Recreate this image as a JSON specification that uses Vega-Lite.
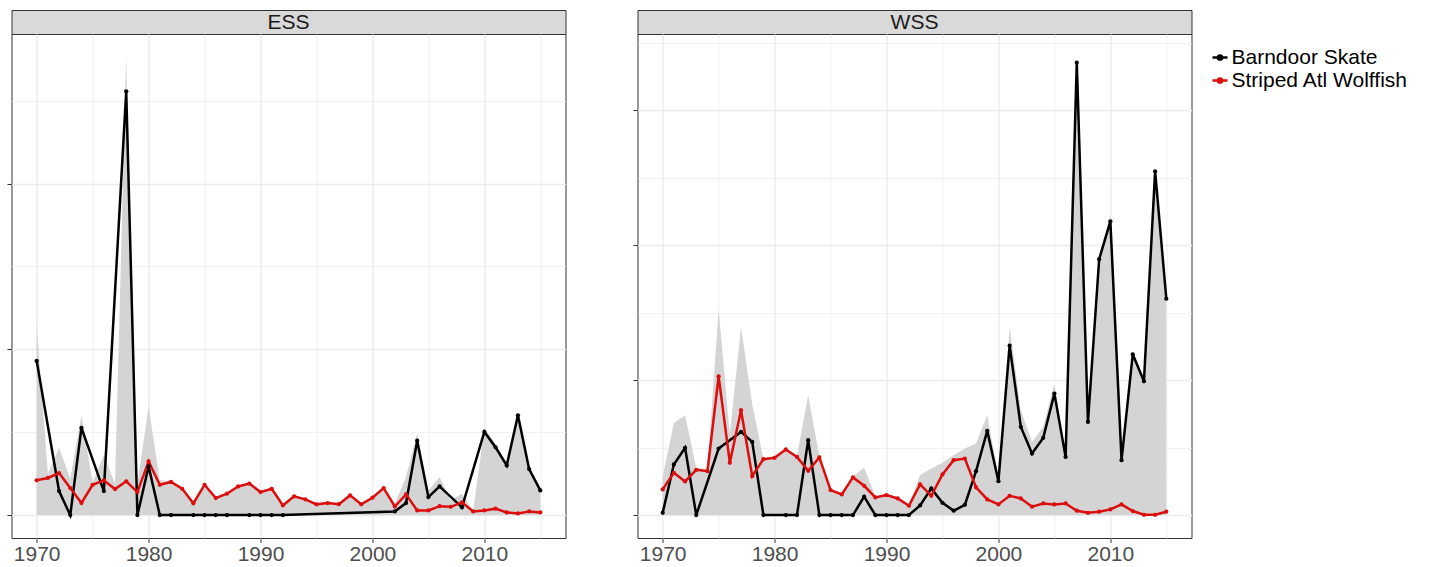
{
  "$schema": "https://vega.github.io/schema/vega-lite/v6.json",
  "padding": {"left": 5.5, "top": 9, "right": 5, "bottom": 0},
  "background": "white",
  "config": {
    "font": "Liberation Sans",
    "view": {"stroke": "#333333", "strokeWidth": 1},
    "axis": {"domain": false, "tickColor": "#333333", "tickSize": 4.5, "tickWidth": 1, "labelFont": "Liberation Sans", "labelFontSize": 21, "labelColor": "#4d4d4d", "labelPadding": 1, "gridColor": "#ebebeb", "title": null, "labelOverlap": false, "labelFlush": false}
  },
  "datasets": {
    "lines": [
      {"panel": "ESS", "series": "Barndoor Skate", "year": 1970, "value": 9.30},
      {"panel": "ESS", "series": "Barndoor Skate", "year": 1972, "value": 1.45},
      {"panel": "ESS", "series": "Barndoor Skate", "year": 1973, "value": 0},
      {"panel": "ESS", "series": "Barndoor Skate", "year": 1974, "value": 5.26},
      {"panel": "ESS", "series": "Barndoor Skate", "year": 1976, "value": 1.45},
      {"panel": "ESS", "series": "Barndoor Skate", "year": 1978, "value": 25.56},
      {"panel": "ESS", "series": "Barndoor Skate", "year": 1979, "value": 0},
      {"panel": "ESS", "series": "Barndoor Skate", "year": 1980, "value": 2.94},
      {"panel": "ESS", "series": "Barndoor Skate", "year": 1981, "value": 0},
      {"panel": "ESS", "series": "Barndoor Skate", "year": 1982, "value": 0},
      {"panel": "ESS", "series": "Barndoor Skate", "year": 1984, "value": 0},
      {"panel": "ESS", "series": "Barndoor Skate", "year": 1985, "value": 0},
      {"panel": "ESS", "series": "Barndoor Skate", "year": 1986, "value": 0},
      {"panel": "ESS", "series": "Barndoor Skate", "year": 1987, "value": 0},
      {"panel": "ESS", "series": "Barndoor Skate", "year": 1989, "value": 0},
      {"panel": "ESS", "series": "Barndoor Skate", "year": 1990, "value": 0},
      {"panel": "ESS", "series": "Barndoor Skate", "year": 1991, "value": 0},
      {"panel": "ESS", "series": "Barndoor Skate", "year": 1992, "value": 0},
      {"panel": "ESS", "series": "Barndoor Skate", "year": 2002, "value": 0.22},
      {"panel": "ESS", "series": "Barndoor Skate", "year": 2003, "value": 0.73},
      {"panel": "ESS", "series": "Barndoor Skate", "year": 2004, "value": 4.49},
      {"panel": "ESS", "series": "Barndoor Skate", "year": 2005, "value": 1.09},
      {"panel": "ESS", "series": "Barndoor Skate", "year": 2006, "value": 1.73},
      {"panel": "ESS", "series": "Barndoor Skate", "year": 2008, "value": 0.47},
      {"panel": "ESS", "series": "Barndoor Skate", "year": 2010, "value": 5.02},
      {"panel": "ESS", "series": "Barndoor Skate", "year": 2011, "value": 4.09},
      {"panel": "ESS", "series": "Barndoor Skate", "year": 2012, "value": 3.0},
      {"panel": "ESS", "series": "Barndoor Skate", "year": 2013, "value": 6.02},
      {"panel": "ESS", "series": "Barndoor Skate", "year": 2014, "value": 2.78},
      {"panel": "ESS", "series": "Barndoor Skate", "year": 2015, "value": 1.49},
      {"panel": "ESS", "series": "Striped Atl Wolffish", "year": 1970, "value": 2.10},
      {"panel": "ESS", "series": "Striped Atl Wolffish", "year": 1971, "value": 2.24},
      {"panel": "ESS", "series": "Striped Atl Wolffish", "year": 1972, "value": 2.54},
      {"panel": "ESS", "series": "Striped Atl Wolffish", "year": 1973, "value": 1.63},
      {"panel": "ESS", "series": "Striped Atl Wolffish", "year": 1974, "value": 0.73},
      {"panel": "ESS", "series": "Striped Atl Wolffish", "year": 1975, "value": 1.83},
      {"panel": "ESS", "series": "Striped Atl Wolffish", "year": 1976, "value": 2.10},
      {"panel": "ESS", "series": "Striped Atl Wolffish", "year": 1977, "value": 1.57},
      {"panel": "ESS", "series": "Striped Atl Wolffish", "year": 1978, "value": 2.04},
      {"panel": "ESS", "series": "Striped Atl Wolffish", "year": 1979, "value": 1.39},
      {"panel": "ESS", "series": "Striped Atl Wolffish", "year": 1980, "value": 3.24},
      {"panel": "ESS", "series": "Striped Atl Wolffish", "year": 1981, "value": 1.83},
      {"panel": "ESS", "series": "Striped Atl Wolffish", "year": 1982, "value": 2.0},
      {"panel": "ESS", "series": "Striped Atl Wolffish", "year": 1983, "value": 1.59},
      {"panel": "ESS", "series": "Striped Atl Wolffish", "year": 1984, "value": 0.71},
      {"panel": "ESS", "series": "Striped Atl Wolffish", "year": 1985, "value": 1.83},
      {"panel": "ESS", "series": "Striped Atl Wolffish", "year": 1986, "value": 1.03},
      {"panel": "ESS", "series": "Striped Atl Wolffish", "year": 1987, "value": 1.29},
      {"panel": "ESS", "series": "Striped Atl Wolffish", "year": 1988, "value": 1.73},
      {"panel": "ESS", "series": "Striped Atl Wolffish", "year": 1989, "value": 1.90},
      {"panel": "ESS", "series": "Striped Atl Wolffish", "year": 1990, "value": 1.39},
      {"panel": "ESS", "series": "Striped Atl Wolffish", "year": 1991, "value": 1.59},
      {"panel": "ESS", "series": "Striped Atl Wolffish", "year": 1992, "value": 0.59},
      {"panel": "ESS", "series": "Striped Atl Wolffish", "year": 1993, "value": 1.13},
      {"panel": "ESS", "series": "Striped Atl Wolffish", "year": 1994, "value": 0.95},
      {"panel": "ESS", "series": "Striped Atl Wolffish", "year": 1995, "value": 0.65},
      {"panel": "ESS", "series": "Striped Atl Wolffish", "year": 1996, "value": 0.73},
      {"panel": "ESS", "series": "Striped Atl Wolffish", "year": 1997, "value": 0.66},
      {"panel": "ESS", "series": "Striped Atl Wolffish", "year": 1998, "value": 1.19},
      {"panel": "ESS", "series": "Striped Atl Wolffish", "year": 1999, "value": 0.65},
      {"panel": "ESS", "series": "Striped Atl Wolffish", "year": 2000, "value": 1.05},
      {"panel": "ESS", "series": "Striped Atl Wolffish", "year": 2001, "value": 1.63},
      {"panel": "ESS", "series": "Striped Atl Wolffish", "year": 2002, "value": 0.52},
      {"panel": "ESS", "series": "Striped Atl Wolffish", "year": 2003, "value": 1.25},
      {"panel": "ESS", "series": "Striped Atl Wolffish", "year": 2004, "value": 0.28},
      {"panel": "ESS", "series": "Striped Atl Wolffish", "year": 2005, "value": 0.28},
      {"panel": "ESS", "series": "Striped Atl Wolffish", "year": 2006, "value": 0.54},
      {"panel": "ESS", "series": "Striped Atl Wolffish", "year": 2007, "value": 0.50},
      {"panel": "ESS", "series": "Striped Atl Wolffish", "year": 2008, "value": 0.77},
      {"panel": "ESS", "series": "Striped Atl Wolffish", "year": 2009, "value": 0.22},
      {"panel": "ESS", "series": "Striped Atl Wolffish", "year": 2010, "value": 0.28},
      {"panel": "ESS", "series": "Striped Atl Wolffish", "year": 2011, "value": 0.39},
      {"panel": "ESS", "series": "Striped Atl Wolffish", "year": 2012, "value": 0.16},
      {"panel": "ESS", "series": "Striped Atl Wolffish", "year": 2013, "value": 0.10},
      {"panel": "ESS", "series": "Striped Atl Wolffish", "year": 2014, "value": 0.22},
      {"panel": "ESS", "series": "Striped Atl Wolffish", "year": 2015, "value": 0.16},
      {"panel": "WSS", "series": "Barndoor Skate", "year": 1970, "value": 0.17},
      {"panel": "WSS", "series": "Barndoor Skate", "year": 1971, "value": 3.75},
      {"panel": "WSS", "series": "Barndoor Skate", "year": 1972, "value": 4.98},
      {"panel": "WSS", "series": "Barndoor Skate", "year": 1973, "value": 0},
      {"panel": "WSS", "series": "Barndoor Skate", "year": 1975, "value": 4.93},
      {"panel": "WSS", "series": "Barndoor Skate", "year": 1977, "value": 6.16},
      {"panel": "WSS", "series": "Barndoor Skate", "year": 1978, "value": 5.42},
      {"panel": "WSS", "series": "Barndoor Skate", "year": 1979, "value": 0},
      {"panel": "WSS", "series": "Barndoor Skate", "year": 1981, "value": 0},
      {"panel": "WSS", "series": "Barndoor Skate", "year": 1982, "value": 0},
      {"panel": "WSS", "series": "Barndoor Skate", "year": 1983, "value": 5.55},
      {"panel": "WSS", "series": "Barndoor Skate", "year": 1984, "value": 0},
      {"panel": "WSS", "series": "Barndoor Skate", "year": 1985, "value": 0},
      {"panel": "WSS", "series": "Barndoor Skate", "year": 1986, "value": 0},
      {"panel": "WSS", "series": "Barndoor Skate", "year": 1987, "value": 0},
      {"panel": "WSS", "series": "Barndoor Skate", "year": 1988, "value": 1.36},
      {"panel": "WSS", "series": "Barndoor Skate", "year": 1989, "value": 0},
      {"panel": "WSS", "series": "Barndoor Skate", "year": 1990, "value": 0},
      {"panel": "WSS", "series": "Barndoor Skate", "year": 1991, "value": 0},
      {"panel": "WSS", "series": "Barndoor Skate", "year": 1992, "value": 0},
      {"panel": "WSS", "series": "Barndoor Skate", "year": 1993, "value": 0.71},
      {"panel": "WSS", "series": "Barndoor Skate", "year": 1994, "value": 1.97},
      {"panel": "WSS", "series": "Barndoor Skate", "year": 1995, "value": 0.91},
      {"panel": "WSS", "series": "Barndoor Skate", "year": 1996, "value": 0.32},
      {"panel": "WSS", "series": "Barndoor Skate", "year": 1997, "value": 0.76},
      {"panel": "WSS", "series": "Barndoor Skate", "year": 1998, "value": 3.25},
      {"panel": "WSS", "series": "Barndoor Skate", "year": 1999, "value": 6.24},
      {"panel": "WSS", "series": "Barndoor Skate", "year": 2000, "value": 2.51},
      {"panel": "WSS", "series": "Barndoor Skate", "year": 2001, "value": 12.55},
      {"panel": "WSS", "series": "Barndoor Skate", "year": 2002, "value": 6.53},
      {"panel": "WSS", "series": "Barndoor Skate", "year": 2003, "value": 4.56},
      {"panel": "WSS", "series": "Barndoor Skate", "year": 2004, "value": 5.72},
      {"panel": "WSS", "series": "Barndoor Skate", "year": 2005, "value": 9.0},
      {"panel": "WSS", "series": "Barndoor Skate", "year": 2006, "value": 4.31},
      {"panel": "WSS", "series": "Barndoor Skate", "year": 2007, "value": 33.53},
      {"panel": "WSS", "series": "Barndoor Skate", "year": 2008, "value": 6.9},
      {"panel": "WSS", "series": "Barndoor Skate", "year": 2009, "value": 18.96},
      {"panel": "WSS", "series": "Barndoor Skate", "year": 2010, "value": 21.77},
      {"panel": "WSS", "series": "Barndoor Skate", "year": 2011, "value": 4.07},
      {"panel": "WSS", "series": "Barndoor Skate", "year": 2012, "value": 11.91},
      {"panel": "WSS", "series": "Barndoor Skate", "year": 2013, "value": 9.91},
      {"panel": "WSS", "series": "Barndoor Skate", "year": 2014, "value": 25.47},
      {"panel": "WSS", "series": "Barndoor Skate", "year": 2015, "value": 16.03},
      {"panel": "WSS", "series": "Striped Atl Wolffish", "year": 1970, "value": 1.90},
      {"panel": "WSS", "series": "Striped Atl Wolffish", "year": 1971, "value": 3.13},
      {"panel": "WSS", "series": "Striped Atl Wolffish", "year": 1972, "value": 2.49},
      {"panel": "WSS", "series": "Striped Atl Wolffish", "year": 1973, "value": 3.35},
      {"panel": "WSS", "series": "Striped Atl Wolffish", "year": 1974, "value": 3.25},
      {"panel": "WSS", "series": "Striped Atl Wolffish", "year": 1975, "value": 10.28},
      {"panel": "WSS", "series": "Striped Atl Wolffish", "year": 1976, "value": 3.87},
      {"panel": "WSS", "series": "Striped Atl Wolffish", "year": 1977, "value": 7.77},
      {"panel": "WSS", "series": "Striped Atl Wolffish", "year": 1978, "value": 2.88},
      {"panel": "WSS", "series": "Striped Atl Wolffish", "year": 1979, "value": 4.14},
      {"panel": "WSS", "series": "Striped Atl Wolffish", "year": 1980, "value": 4.24},
      {"panel": "WSS", "series": "Striped Atl Wolffish", "year": 1981, "value": 4.86},
      {"panel": "WSS", "series": "Striped Atl Wolffish", "year": 1982, "value": 4.31},
      {"panel": "WSS", "series": "Striped Atl Wolffish", "year": 1983, "value": 3.28},
      {"panel": "WSS", "series": "Striped Atl Wolffish", "year": 1984, "value": 4.27},
      {"panel": "WSS", "series": "Striped Atl Wolffish", "year": 1985, "value": 1.85},
      {"panel": "WSS", "series": "Striped Atl Wolffish", "year": 1986, "value": 1.53},
      {"panel": "WSS", "series": "Striped Atl Wolffish", "year": 1987, "value": 2.79},
      {"panel": "WSS", "series": "Striped Atl Wolffish", "year": 1988, "value": 2.17},
      {"panel": "WSS", "series": "Striped Atl Wolffish", "year": 1989, "value": 1.31},
      {"panel": "WSS", "series": "Striped Atl Wolffish", "year": 1990, "value": 1.48},
      {"panel": "WSS", "series": "Striped Atl Wolffish", "year": 1991, "value": 1.23},
      {"panel": "WSS", "series": "Striped Atl Wolffish", "year": 1992, "value": 0.69},
      {"panel": "WSS", "series": "Striped Atl Wolffish", "year": 1993, "value": 2.27},
      {"panel": "WSS", "series": "Striped Atl Wolffish", "year": 1994, "value": 1.43},
      {"panel": "WSS", "series": "Striped Atl Wolffish", "year": 1995, "value": 3.01},
      {"panel": "WSS", "series": "Striped Atl Wolffish", "year": 1996, "value": 4.07},
      {"panel": "WSS", "series": "Striped Atl Wolffish", "year": 1997, "value": 4.19},
      {"panel": "WSS", "series": "Striped Atl Wolffish", "year": 1998, "value": 2.05},
      {"panel": "WSS", "series": "Striped Atl Wolffish", "year": 1999, "value": 1.16},
      {"panel": "WSS", "series": "Striped Atl Wolffish", "year": 2000, "value": 0.79},
      {"panel": "WSS", "series": "Striped Atl Wolffish", "year": 2001, "value": 1.43},
      {"panel": "WSS", "series": "Striped Atl Wolffish", "year": 2002, "value": 1.23},
      {"panel": "WSS", "series": "Striped Atl Wolffish", "year": 2003, "value": 0.62},
      {"panel": "WSS", "series": "Striped Atl Wolffish", "year": 2004, "value": 0.86},
      {"panel": "WSS", "series": "Striped Atl Wolffish", "year": 2005, "value": 0.79},
      {"panel": "WSS", "series": "Striped Atl Wolffish", "year": 2006, "value": 0.86},
      {"panel": "WSS", "series": "Striped Atl Wolffish", "year": 2007, "value": 0.32},
      {"panel": "WSS", "series": "Striped Atl Wolffish", "year": 2008, "value": 0.17},
      {"panel": "WSS", "series": "Striped Atl Wolffish", "year": 2009, "value": 0.25},
      {"panel": "WSS", "series": "Striped Atl Wolffish", "year": 2010, "value": 0.42},
      {"panel": "WSS", "series": "Striped Atl Wolffish", "year": 2011, "value": 0.79},
      {"panel": "WSS", "series": "Striped Atl Wolffish", "year": 2012, "value": 0.30},
      {"panel": "WSS", "series": "Striped Atl Wolffish", "year": 2013, "value": 0.02},
      {"panel": "WSS", "series": "Striped Atl Wolffish", "year": 2014, "value": 0.02},
      {"panel": "WSS", "series": "Striped Atl Wolffish", "year": 2015, "value": 0.25}
    ],
    "band": [
      {"panel": "ESS", "year": 1970, "upper": 11.46},
      {"panel": "ESS", "year": 1971, "upper": 2.5},
      {"panel": "ESS", "year": 1972, "upper": 4.07},
      {"panel": "ESS", "year": 1973, "upper": 2.2},
      {"panel": "ESS", "year": 1974, "upper": 6.02},
      {"panel": "ESS", "year": 1975, "upper": 2.0},
      {"panel": "ESS", "year": 1976, "upper": 3.6},
      {"panel": "ESS", "year": 1977, "upper": 1.9},
      {"panel": "ESS", "year": 1978, "upper": 27.64},
      {"panel": "ESS", "year": 1979, "upper": 1.9},
      {"panel": "ESS", "year": 1980, "upper": 6.53},
      {"panel": "ESS", "year": 1981, "upper": 2.1},
      {"panel": "ESS", "year": 1982, "upper": 2.05},
      {"panel": "ESS", "year": 1983, "upper": 1.65},
      {"panel": "ESS", "year": 1984, "upper": 0.78},
      {"panel": "ESS", "year": 1985, "upper": 1.88},
      {"panel": "ESS", "year": 1986, "upper": 1.08},
      {"panel": "ESS", "year": 1987, "upper": 1.34},
      {"panel": "ESS", "year": 1988, "upper": 1.78},
      {"panel": "ESS", "year": 1989, "upper": 1.95},
      {"panel": "ESS", "year": 1990, "upper": 1.44},
      {"panel": "ESS", "year": 1991, "upper": 1.64},
      {"panel": "ESS", "year": 1992, "upper": 0.64},
      {"panel": "ESS", "year": 1993, "upper": 1.18},
      {"panel": "ESS", "year": 1994, "upper": 1.0},
      {"panel": "ESS", "year": 1995, "upper": 0.7},
      {"panel": "ESS", "year": 1996, "upper": 0.78},
      {"panel": "ESS", "year": 1997, "upper": 0.71},
      {"panel": "ESS", "year": 1998, "upper": 1.24},
      {"panel": "ESS", "year": 1999, "upper": 0.7},
      {"panel": "ESS", "year": 2000, "upper": 1.1},
      {"panel": "ESS", "year": 2001, "upper": 1.68},
      {"panel": "ESS", "year": 2002, "upper": 0.69},
      {"panel": "ESS", "year": 2003, "upper": 2.3},
      {"panel": "ESS", "year": 2004, "upper": 4.92},
      {"panel": "ESS", "year": 2005, "upper": 1.49},
      {"panel": "ESS", "year": 2006, "upper": 2.3},
      {"panel": "ESS", "year": 2007, "upper": 0.89},
      {"panel": "ESS", "year": 2008, "upper": 1.29},
      {"panel": "ESS", "year": 2009, "upper": 0.25},
      {"panel": "ESS", "year": 2010, "upper": 5.26},
      {"panel": "ESS", "year": 2011, "upper": 4.31},
      {"panel": "ESS", "year": 2012, "upper": 3.1},
      {"panel": "ESS", "year": 2013, "upper": 6.13},
      {"panel": "ESS", "year": 2014, "upper": 2.86},
      {"panel": "ESS", "year": 2015, "upper": 1.6},
      {"panel": "WSS", "year": 1970, "upper": 2.84},
      {"panel": "WSS", "year": 1971, "upper": 6.83},
      {"panel": "WSS", "year": 1972, "upper": 7.40},
      {"panel": "WSS", "year": 1973, "upper": 3.5},
      {"panel": "WSS", "year": 1974, "upper": 3.4},
      {"panel": "WSS", "year": 1975, "upper": 15.21},
      {"panel": "WSS", "year": 1976, "upper": 6.0},
      {"panel": "WSS", "year": 1977, "upper": 13.93},
      {"panel": "WSS", "year": 1978, "upper": 8.2},
      {"panel": "WSS", "year": 1979, "upper": 4.2},
      {"panel": "WSS", "year": 1980, "upper": 4.3},
      {"panel": "WSS", "year": 1981, "upper": 4.95},
      {"panel": "WSS", "year": 1982, "upper": 4.4},
      {"panel": "WSS", "year": 1983, "upper": 8.88},
      {"panel": "WSS", "year": 1984, "upper": 4.35},
      {"panel": "WSS", "year": 1985, "upper": 1.95},
      {"panel": "WSS", "year": 1986, "upper": 1.6},
      {"panel": "WSS", "year": 1987, "upper": 2.85},
      {"panel": "WSS", "year": 1988, "upper": 3.5},
      {"panel": "WSS", "year": 1989, "upper": 1.4},
      {"panel": "WSS", "year": 1990, "upper": 1.55},
      {"panel": "WSS", "year": 1991, "upper": 1.3},
      {"panel": "WSS", "year": 1992, "upper": 0.75},
      {"panel": "WSS", "year": 1993, "upper": 2.96},
      {"panel": "WSS", "year": 1994, "upper": 3.45},
      {"panel": "WSS", "year": 1995, "upper": 3.87},
      {"panel": "WSS", "year": 1996, "upper": 4.44},
      {"panel": "WSS", "year": 1997, "upper": 4.93},
      {"panel": "WSS", "year": 1998, "upper": 5.3},
      {"panel": "WSS", "year": 1999, "upper": 7.4},
      {"panel": "WSS", "year": 2000, "upper": 2.84},
      {"panel": "WSS", "year": 2001, "upper": 13.93},
      {"panel": "WSS", "year": 2002, "upper": 7.77},
      {"panel": "WSS", "year": 2003, "upper": 5.42},
      {"panel": "WSS", "year": 2004, "upper": 6.53},
      {"panel": "WSS", "year": 2005, "upper": 9.74},
      {"panel": "WSS", "year": 2006, "upper": 4.45},
      {"panel": "WSS", "year": 2007, "upper": 33.9},
      {"panel": "WSS", "year": 2008, "upper": 7.05},
      {"panel": "WSS", "year": 2009, "upper": 19.23},
      {"panel": "WSS", "year": 2010, "upper": 22.19},
      {"panel": "WSS", "year": 2011, "upper": 4.15},
      {"panel": "WSS", "year": 2012, "upper": 12.08},
      {"panel": "WSS", "year": 2013, "upper": 10.05},
      {"panel": "WSS", "year": 2014, "upper": 25.64},
      {"panel": "WSS", "year": 2015, "upper": 16.1}
    ]
  },
  "columns": 2,
  "bounds": "flush",
  "spacing": {"row": 0, "column": 72},
  "concat": [
    {
      "width": 554, "height": 24,
      "view": {"fill": "#d9d9d9", "stroke": "#333333", "strokeWidth": 1},
      "data": {"values": [{"label": "ESS"}]},
      "mark": {"type": "text", "fontSize": 21, "color": "#1a1a1a", "font": "Liberation Sans", "dy": 1},
      "encoding": {"text": {"field": "label"}}
    },
    {
      "width": 554, "height": 24,
      "view": {"fill": "#d9d9d9", "stroke": "#333333", "strokeWidth": 1},
      "data": {"values": [{"label": "WSS"}]},
      "mark": {"type": "text", "fontSize": 21, "color": "#1a1a1a", "font": "Liberation Sans", "dy": 1},
      "encoding": {"text": {"field": "label"}}
    },
    {
      "width": 554, "height": 504,
      "encoding": {
        "x": {"field": "year", "type": "quantitative",
          "scale": {"domain": [1967.75, 2017.25], "nice": false, "zero": false},
          "axis": {"values": [1970, 1975, 1980, 1985, 1990, 1995, 2000, 2005, 2010, 2015],
            "labelExpr": "datum.value % 10 === 0 ? format(datum.value, 'd') : ''",
            "tickOpacity": {"condition": {"test": "datum.value % 10 === 0", "value": 1}, "value": 0},
            "gridWidth": {"condition": {"test": "datum.value % 10 === 0", "value": 1.4}, "value": 0.7}}}
      },
      "layer": [
        {"data": {"name": "band"},
          "transform": [{"filter": "datum.panel === 'ESS'"}],
          "mark": {"type": "area", "color": "#d4d4d4", "opacity": 1},
          "encoding": {
            "y": {"field": "upper", "type": "quantitative",
              "scale": {"domain": [-1.38, 29.02], "nice": false, "zero": false},
              "axis": {"values": [0, 5, 10, 15, 20, 25], "labels": false,
                "tickOpacity": {"condition": {"test": "datum.value % 10 === 0", "value": 1}, "value": 0},
                "gridWidth": {"condition": {"test": "datum.value % 10 === 0", "value": 1.4}, "value": 0.7}}},
            "y2": {"datum": 0}
          }},
        {"data": {"name": "lines"},
          "transform": [{"filter": "datum.panel === 'ESS'"}],
          "mark": {"type": "line", "strokeWidth": 2.5},
          "encoding": {
            "y": {"field": "value", "type": "quantitative"},
            "color": {"field": "series", "type": "nominal",
              "scale": {"domain": ["Barndoor Skate", "Striped Atl Wolffish"], "range": ["#000000", "#dc0d0d"]},
              "legend": {"orient": "none", "legendX": 1198, "legendY": 37, "title": null,
                "labelFont": "Liberation Sans", "labelFontSize": 21, "labelColor": "#000000", "labelOffset": 1, "labelLimit": 400,
                "symbolType": "M-1,0H1M-0.28,0A0.28,0.28,0,1,0,0.28,0A0.28,0.28,0,1,0,-0.28,0",
                "symbolSize": 225, "symbolStrokeWidth": 2.5, "rowPadding": 1}}
          }},
        {"data": {"name": "lines"},
          "transform": [{"filter": "datum.panel === 'ESS'"}],
          "mark": {"type": "point", "filled": true, "size": 18, "opacity": 1},
          "encoding": {
            "y": {"field": "value", "type": "quantitative"},
            "color": {"field": "series", "type": "nominal"}
          }}
      ]
    },
    {
      "width": 554, "height": 504,
      "encoding": {
        "x": {"field": "year", "type": "quantitative",
          "scale": {"domain": [1967.75, 2017.25], "nice": false, "zero": false},
          "axis": {"values": [1970, 1975, 1980, 1985, 1990, 1995, 2000, 2005, 2010, 2015],
            "labelExpr": "datum.value % 10 === 0 ? format(datum.value, 'd') : ''",
            "tickOpacity": {"condition": {"test": "datum.value % 10 === 0", "value": 1}, "value": 0},
            "gridWidth": {"condition": {"test": "datum.value % 10 === 0", "value": 1.4}, "value": 0.7}}}
      },
      "layer": [
        {"data": {"name": "band"},
          "transform": [{"filter": "datum.panel === 'WSS'"}],
          "mark": {"type": "area", "color": "#d4d4d4", "opacity": 1},
          "encoding": {
            "y": {"field": "upper", "type": "quantitative",
              "scale": {"domain": [-1.7, 35.65], "nice": false, "zero": false},
              "axis": {"values": [0, 5, 10, 15, 20, 25, 30, 35], "labels": false,
                "tickOpacity": {"condition": {"test": "datum.value % 10 === 0", "value": 1}, "value": 0},
                "gridWidth": {"condition": {"test": "datum.value % 10 === 0", "value": 1.4}, "value": 0.7}}},
            "y2": {"datum": 0}
          }},
        {"data": {"name": "lines"},
          "transform": [{"filter": "datum.panel === 'WSS'"}],
          "mark": {"type": "line", "strokeWidth": 2.5},
          "encoding": {
            "y": {"field": "value", "type": "quantitative"},
            "color": {"field": "series", "type": "nominal",
              "scale": {"domain": ["Barndoor Skate", "Striped Atl Wolffish"], "range": ["#000000", "#dc0d0d"]}}
          }},
        {"data": {"name": "lines"},
          "transform": [{"filter": "datum.panel === 'WSS'"}],
          "mark": {"type": "point", "filled": true, "size": 18, "opacity": 1},
          "encoding": {
            "y": {"field": "value", "type": "quantitative"},
            "color": {"field": "series", "type": "nominal"}
          }}
      ]
    }
  ]
}
